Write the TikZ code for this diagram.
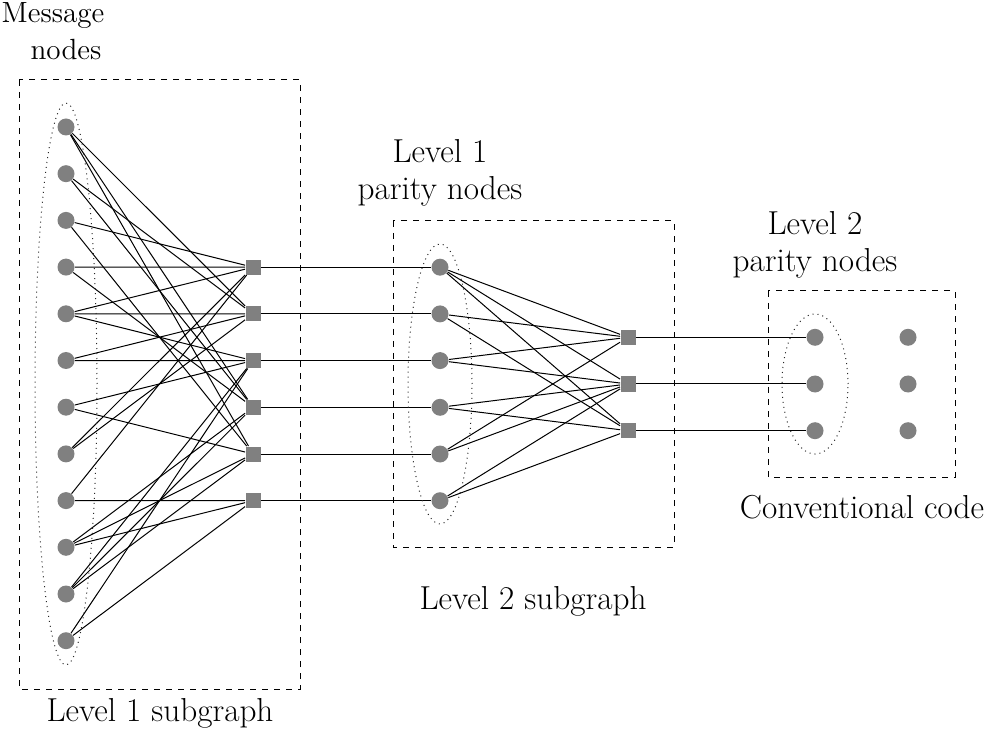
\documentclass[tikz,border=0pt]{standalone}
\usetikzlibrary{backgrounds}
\definecolor{nodegray}{RGB}{128,128,128}
\begin{document}
\begin{tikzpicture}[x=0.5pt,y=-0.5pt,
  vnode/.style={circle, fill=nodegray, inner sep=0pt, minimum size=8.5pt},
  cnode/.style={rectangle, fill=nodegray, inner sep=0pt, minimum size=7.5pt},
  link/.style={line width=0.5pt},
  subbox/.style={dashed, line width=0.5pt},
  grp/.style={dotted, line width=0.5pt, black!85},
  lbl/.style={font=\fontsize{16.6}{18.5}\selectfont, align=center, inner sep=0pt},
  smalllbl/.style={font=\fontsize{14.6}{17.5}\selectfont, align=center, inner sep=0pt}]
\useasboundingbox (0,0) rectangle (995,753);

% message nodes
\foreach \i in {1,...,12}{
  \node[vnode] (m\i) at (66,{127+46.7*(\i-1)}) {};
}
% level 1 checks and level 1 parity nodes
\foreach \i in {1,...,6}{
  \node[cnode] (q\i) at (253,{267.2+46.7*(\i-1)}) {};
  \node[vnode] (p\i) at (440,{267.2+46.7*(\i-1)}) {};
}
% level 2 checks, parity nodes and conventional code nodes
\foreach \i in {1,2,3}{
  \node[cnode] (c\i) at (628,{337.3+46.7*(\i-1)}) {};
  \node[vnode] (r\i) at (815,{337.3+46.7*(\i-1)}) {};
  \node[vnode] (t\i) at (908,{337.3+46.7*(\i-1)}) {};
}

\begin{scope}[on background layer]
% level 1 subgraph edges
\foreach \a/\b in {1/2,1/4,1/5, 2/2,2/4, 3/1,3/5, 4/1,4/4, 5/1,5/2,5/3,
                   6/2,6/3, 7/3,7/5, 8/1,8/2, 9/1,9/6, 10/4,10/5,10/6,
                   11/3,11/4,11/5, 12/3,12/6}{
  \draw[link] (m\a) -- (q\b);
}
\foreach \i in {1,...,6}{ \draw[link] (q\i) -- (p\i); }
% level 2 subgraph edges
\foreach \a/\b in {1/1,1/2,1/3, 2/1,2/3, 3/1,3/2, 4/2,4/3, 5/1,5/2, 6/2,6/3}{
  \draw[link] (p\a) -- (c\b);
}
\foreach \i in {1,2,3}{ \draw[link] (c\i) -- (r\i); }

% groups
\draw[grp] (66,384) ellipse [x radius=15.5pt, y radius=140.5pt];
\draw[grp] (440,384) ellipse [x radius=16pt, y radius=70pt];
\draw[grp] (815,384) ellipse [x radius=16.5pt, y radius=35pt];

% subgraph boxes
\draw[subbox] (19,80) rectangle (300,689);
\draw[subbox] (393,221) rectangle (674,547);
\draw[subbox] (768,291) rectangle (955,477);
\end{scope}

% labels
\node[smalllbl] (lmsg) at (53,16) {Message};
\node[smalllbl] (lmsg2) at (66,50) {nodes};
\node[lbl] (lp1) at (440,173) {Level 1\\parity nodes};
\node[lbl] (lp2) at (815,245) {Level 2\\parity nodes};
\node[lbl] (ls1) at (160,713) {Level 1 subgraph};
\node[lbl] (ls2) at (533,601) {Level 2 subgraph};
\node[lbl] (lcc) at (862,507) {Conventional code};
\end{tikzpicture}
\end{document}
